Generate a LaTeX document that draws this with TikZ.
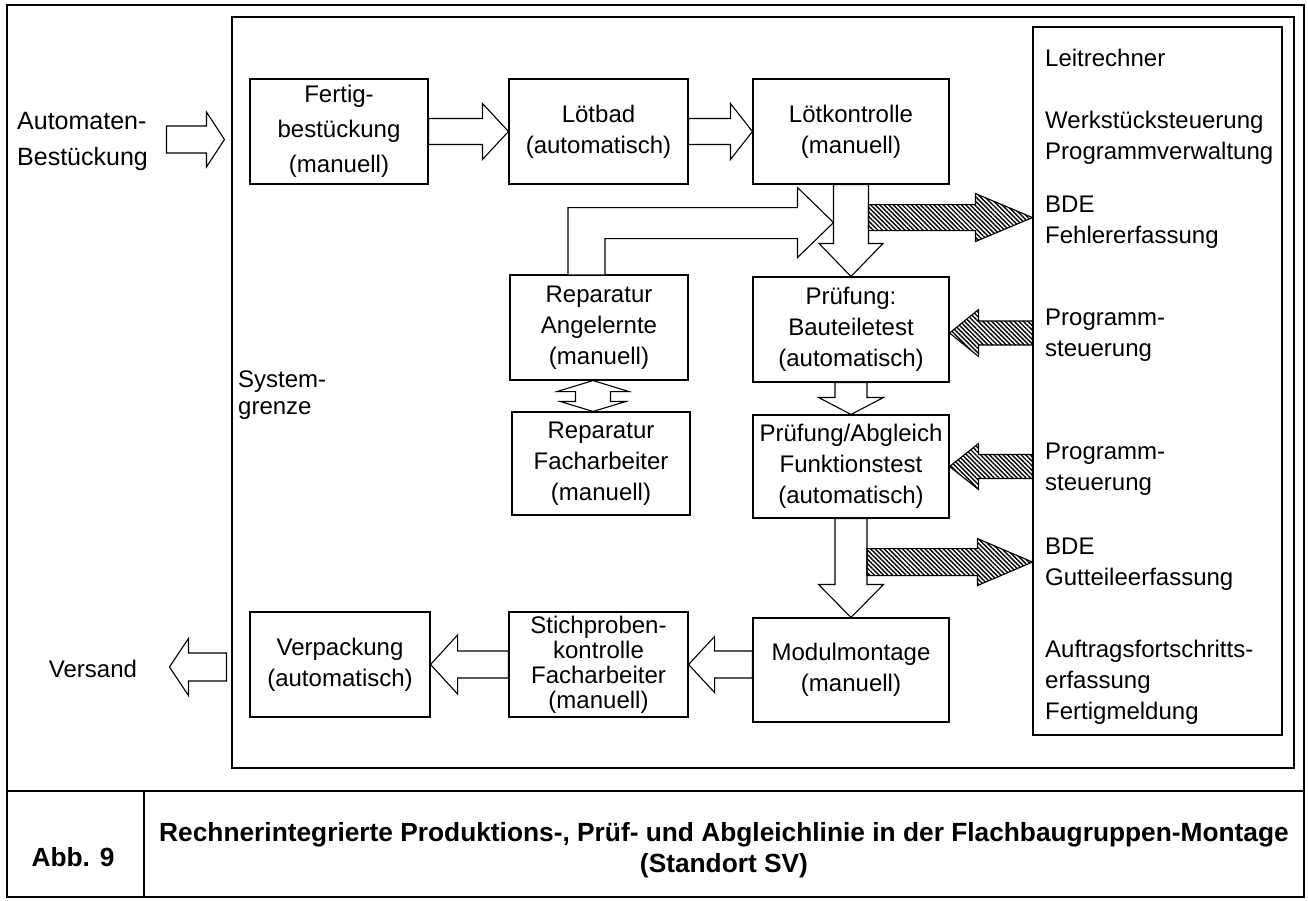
\documentclass[tikz,border=0pt]{standalone}
\usepackage{fontspec}
\setmainfont{Liberation Sans}
\usetikzlibrary{calc,patterns.meta}

\newcommand\boxfont{\fontsize{24}{31}\selectfont}
\newcommand\capfont{\fontsize{26.3}{31}\selectfont\bfseries}

% straight block arrow: [style]{tail}{tip}{shaft half width}{head half width}{head length}
\newcommand\blkarrow[6][]{%
  \coordinate (blkhead) at ($(#3)!#6!(#2)$);
  \draw[#1] ($(#2)!#4!90:(#3)$) -- ($(blkhead)!#4!90:(#3)$) -- ($(blkhead)!#5!90:(#3)$)
    -- (#3) -- ($(blkhead)!#5!-90:(#3)$) -- ($(blkhead)!#4!-90:(#3)$)
    -- ($(#2)!#4!-90:(#3)$) -- cycle;
}

\begin{document}
\begin{tikzpicture}[x=1pt,y=-1pt,
  stage/.style={draw, line width=1.1pt, inner sep=0pt, align=center, font=\boxfont},
  frameline/.style={line width=1.1pt},
  lbl/.style={inner sep=0pt, font=\boxfont},
  hollow/.style={draw, fill=white, line width=1.1pt, line join=miter},
  hatched/.style={draw, line width=1.1pt, line join=miter,
    pattern={Lines[angle=-45,distance=3.2pt,line width=1.4pt]}}]

\useasboundingbox (0,0) rectangle (1308,900);
\fill[white] (0,0) rectangle (1308,900);

% page frame, caption row and system boundary
\node[draw, frameline, inner sep=0pt, minimum width=1297, minimum height=892] (frame) at (655.5,451) {};
\draw[frameline] (7,791) -- (1304,791);
\draw[frameline] (144,791) -- (144,897);
\node[draw, frameline, inner sep=0pt, minimum width=1062, minimum height=751] (sys) at (763,392.5) {};

% host computer column
\node[draw, line width=1.1pt, inner sep=0pt, minimum width=249, minimum height=708] (leit) at (1157.5,381) {};
\node[lbl, anchor=west] (l1) at (1045,58) {Leitrechner};
\node[lbl, anchor=west, align=left] (l2) at (1045,138) {Werkstücksteuerung\\Programmverwaltung};
\node[lbl, anchor=west, align=left] (l3) at (1045,222) {BDE\\Fehlererfassung};
\node[lbl, anchor=west, align=left] (l4) at (1045,335) {Programm-\\steuerung};
\node[lbl, anchor=west, align=left] (l5) at (1045,469) {Programm-\\steuerung};
\node[lbl, anchor=west, align=left] (l6) at (1045,564) {BDE\\Gutteileerfassung};
\node[lbl, anchor=west, align=left] (l7) at (1045,682) {Auftragsfortschritts-\\erfassung\\Fertigmeldung};

% process stations
\node[stage, minimum width=178, minimum height=105, font=\fontsize{24}{35}\selectfont] (fert) at (339,131.5) {Fertig-\\bestückung\\(manuell)};
\node[stage, minimum width=179, minimum height=105] (loet) at (598.5,131.5) {Lötbad\\(automatisch)};
\node[stage, minimum width=196, minimum height=105] (lkon) at (851,131.5) {Lötkontrolle\\(manuell)};
\node[stage, minimum width=178, minimum height=105] (repA) at (599,327.5) {Reparatur\\Angelernte\\(manuell)};
\node[stage, minimum width=196, minimum height=105] (baut) at (851,329.5) {Prüfung:\\Bauteiletest\\(automatisch)};
\node[stage, minimum width=178, minimum height=103] (repF) at (601,463.5) {Reparatur\\Facharbeiter\\(manuell)};
\node[stage, minimum width=196, minimum height=103] (funk) at (851,466.5) {Prüfung/Abgleich\\Funktionstest\\(automatisch)};
\node[stage, minimum width=196, minimum height=104] (modm) at (851,670) {Modulmontage\\(manuell)};
\node[stage, minimum width=179, minimum height=105, font=\fontsize{24}{25}\selectfont] (stich) at (598.5,664.5) {Stichproben-\\kontrolle\\Facharbeiter\\(manuell)};
\node[stage, minimum width=180, minimum height=105] (verp) at (340,664.5) {Verpackung\\(automatisch)};

% outside labels
\node[lbl, anchor=west, align=left, font=\fontsize{25}{36}\selectfont] (auto) at (17,141) {Automaten-\\Bestückung};
\node[lbl] (vers) at (93,669) {Versand};
\node[lbl, anchor=west, align=left, font=\fontsize{24}{27}\selectfont] (sysl) at (238,395) {System-\\grenze};

% caption
\node[inner sep=0pt, font=\capfont] (abb) at (73,857) {Abb. 9};
\node[inner sep=0pt, align=center, font=\capfont] (capt) at (724,850.5) {Rechnerintegrierte Produktions-, Prüf- und Abgleichlinie in der Flachbaugruppen-Montage\\(Standort SV)};

% material flow
\coordinate (aTail) at ($(fert.west)+(-83,8)$);
\coordinate (aTip) at ($(fert.west)+(-25,8)$);
\blkarrow[hollow]{aTail}{aTip}{13.5pt}{27.5pt}{18pt}
\blkarrow[hollow]{fert.east}{loet.west}{13pt}{28pt}{26pt}
\blkarrow[hollow]{loet.east}{lkon.west}{13pt}{28pt}{22pt}
\blkarrow[hollow]{lkon.south}{baut.north}{17.5pt}{32pt}{33pt}
\blkarrow[hollow]{baut.south}{funk.north}{16pt}{32.5pt}{17pt}
\blkarrow[hollow]{funk.south}{modm.north}{16pt}{32.5pt}{33pt}
\coordinate (lTail) at (modm.west |- stich.east);
\blkarrow[hollow]{lTail}{stich.east}{13.5pt}{28pt}{26pt}
\blkarrow[hollow]{stich.west}{verp.east}{13.5pt}{29.5pt}{27pt}
\coordinate (nTail) at ($(verp.west)+(-23,2.5)$);
\coordinate (nTip) at ($(verp.west)+(-80,2.5)$);
\blkarrow[hollow]{nTail}{nTip}{14pt}{28.5pt}{19pt}

% repair loop back into the inspection flow
\coordinate (rA) at ($(repA.north)+(-31,0)$);
\coordinate (rB) at ($(repA.north)+(6,0)$);
\coordinate (rTip) at ($(lkon.south)+(-17.5,38)$);
\coordinate (rHo) at ($(rTip)+(-36,-15)$);
\coordinate (rHi) at ($(rTip)+(-36,16)$);
\coordinate (rHt) at ($(rTip)+(-36,-35)$);
\coordinate (rHb) at ($(rTip)+(-36,35)$);
\draw[hollow] (rA) -- (rA |- rHo) -- (rHo) -- (rHt) -- (rTip) -- (rHb) -- (rHi) -- (rB |- rHi) -- (rB);

% exchange between the two repair stations
\coordinate (kTop) at ($(repA.south)+(-6,0)$);
\coordinate (kBot) at (kTop |- repF.north);
\draw[hollow] (kTop) -- ($(kTop)+(36,11)$) -- ($(kTop)+(17.5,11)$) -- ($(kBot)+(17.5,-10)$)
  -- ($(kBot)+(33,-10)$) -- (kBot) -- ($(kBot)+(-33,-10)$) -- ($(kBot)+(-17.5,-10)$)
  -- ($(kTop)+(-17.5,11)$) -- ($(kTop)+(-36,11)$) -- cycle;

% data exchange with the host computer
\coordinate (eTail) at ($(lkon.south)+(17.5,33)$);
\coordinate (eTip) at (leit.west |- eTail);
\blkarrow[hatched]{eTail}{eTip}{13pt}{24pt}{57pt}
\coordinate (fTip) at ($(baut.east)+(0,3.5)$);
\coordinate (fTail) at (leit.west |- fTip);
\blkarrow[hatched]{fTail}{fTip}{12pt}{23.5pt}{29pt}
\coordinate (gTail) at (leit.west |- funk.east);
\blkarrow[hatched]{gTail}{funk.east}{12pt}{23pt}{29pt}
\coordinate (hTail) at ($(funk.south)+(16,43.5)$);
\coordinate (hTip) at (leit.west |- hTail);
\blkarrow[hatched]{hTail}{hTip}{13.5pt}{23.5pt}{55pt}

\end{tikzpicture}
\end{document}
